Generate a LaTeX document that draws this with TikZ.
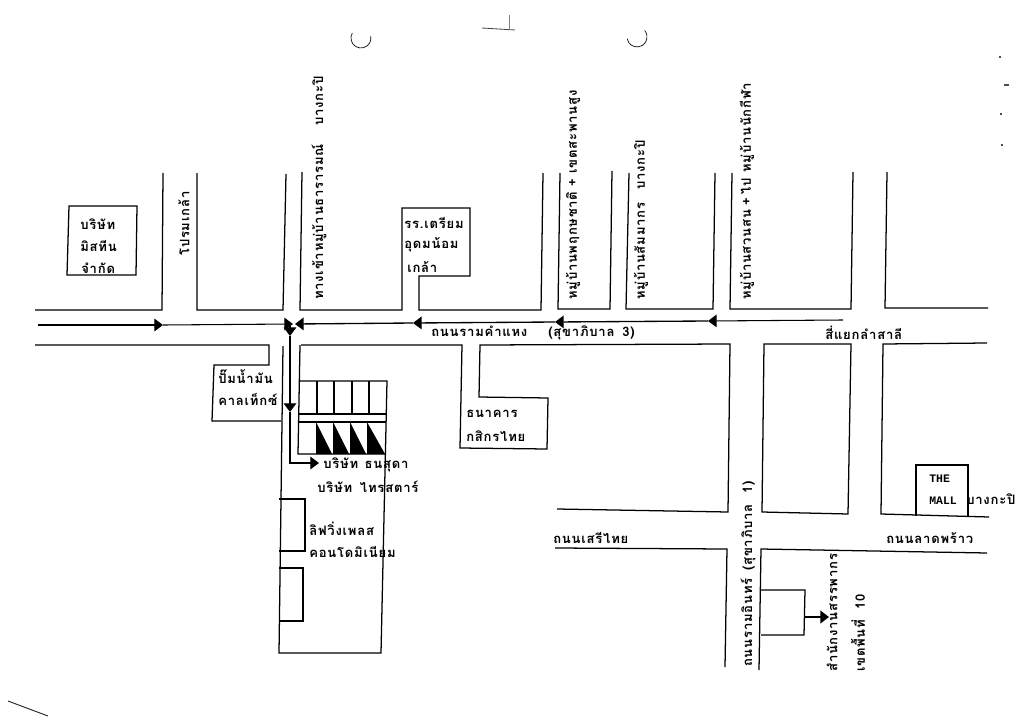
\documentclass[tikz,border=0pt]{standalone}
\usepackage{fontspec}
\usetikzlibrary{arrows.meta}
\newfontfamily\thaifont[Script=Thai,LetterSpace=6]{Loma}
\newfontfamily\latnfont{Liberation Mono}
\tikzset{
  x=0.75pt,y=-0.75pt,
  road/.style={draw=black,line width=0.95pt,line join=miter},
  flow/.style={draw=black,line width=0.8pt},
  tipr/.style={-{Triangle[length=6.5pt,width=9.5pt]}},
  lbl/.style={font=\thaifont\bfseries\fontsize{9.8}{11}\selectfont,inner sep=0pt,text=black},
  lblv/.style={lbl,rotate=90},
  latin/.style={font=\latnfont\bfseries\fontsize{8.6}{9}\selectfont,inner sep=0pt,text=black},
  speck/.style={fill=black!70,draw=none},
}
\begin{document}
\begin{tikzpicture}
\useasboundingbox (0,0) rectangle (1024,724);
\fill[white] (0,0) rectangle (1024,724);
% upper road edge
\draw[road] (35,310)--(162,310)--(163,173);
\draw[road] (197,173)--(197,310)--(283,310)--(286,174);
\draw[road] (302,172)--(300,310)--(402,310)--(402,208)--(470,208)--(470,276)--(419,276)--(419,310)--(541,310)--(543,173);
\draw[road] (560,173)--(558,309)--(610,309)--(612,171);
\draw[road] (629,173)--(626,309)--(713,309)--(715,173);
\draw[road] (732,173)--(730,309)--(851,309)--(853,172);
\draw[road] (887,172)--(885,308)--(988,308);
% lower road edge, west
\draw[road] (35,345)--(269,345)--(269,365)--(214,365)--(212,421)--(281,421);
\draw[road] (283,346)--(279,653)--(381,653)--(387,381)--(300,381);
\draw[road] (300,345)--(298,454)--(385,454);
\draw[road] (298,414)--(387,414);
\draw[road] (299,422)--(386,422);
\foreach \a in {317,334,352,369}{\draw[road] (\a,381)--(\a,414);}
\foreach \a/\b in {316/332,333/349,350/366,367/385}{\fill[black] (\a,422)--(\a,454)--(\b,454)--cycle;}
\draw[road] (279,499)--(305,499)--(305,551)--(279,551);
\draw[road] (279,568)--(303,568)--(303,621)--(279,621);
% bank block
\draw[road] (301,345)--(462,345)--(460,448)--(547,449)--(548,398)--(479,397)--(480,345)--(730,344)--(728,512)--(557,509);
% middle and east blocks
\draw[road] (762,512)--(764,344)--(851,344)--(848,514)--cycle;
\draw[road] (987,343)--(883,344)--(881,514)--(989,517);
\draw[road] (916,516)--(916,465)--(968,465)--(968,516);
% south
\draw[road] (555,548)--(727,549)--(725,667);
\draw[road] (759,670)--(761,549)--(987,553);
\draw[road] (761,590)--(805,590)--(804,635)--(761,635);
\draw[flow,line width=1.5pt,tipr] (805,617)--(829,617);
% flow arrows
\coordinate (w) at (38,325);
\coordinate (e) at (843,320);
\draw[flow,tipr] (w)--(163,325);
\draw[flow,tipr] (163,325)--(293,324);
\draw[flow,tipr] (e)--(708,321);
\draw[flow,line width=1pt,tipr] (708,321)--(555,322);
\draw[flow,line width=1pt,tipr] (555,322)--(413,323);
\draw[flow,line width=1pt,tipr] (413,323)--(295,324);
\draw[flow,tipr] (290,324)--(290,336);
\draw[flow,tipr] (290,336)--(290,412);
\draw[flow] (290,412)--(290,463)--(300,463);
\draw[flow,tipr] (290,463)--(319,463);
% labels
\node[lbl,anchor=west] (n1) at (80,224) {บริษัท};
\node[lbl,anchor=west] (n2) at (80,246) {มิสทีน};
\node[lbl,anchor=west] (n3) at (81,268) {จำกัด};
\draw[road] (69,206)--(137,206)--(136,275)--(67,275)--cycle;
\node[lblv,anchor=west] (n4) at (184,256) {โปรมเกล้า};
\node[lblv,anchor=west] (n5) at (319,300) {ทางเข้าหมู่บ้านธารารมณ์\hspace{1.4em}บางกะปิ};
\node[lbl,anchor=west] (n6) at (404,223) {รร.เตรียม};
\node[lbl,anchor=west] (n7) at (404,245) {อุดมน้อม};
\node[lbl,anchor=west] (n8) at (407,267) {เกล้า};
\node[lbl,anchor=west] (n9) at (431,333) {ถนนรามคำแหง\hspace{1.6em}(สุขาภิบาล\hspace{0.6em}3)};
\node[lblv,anchor=west] (n10) at (573,300) {หมู่บ้านพฤกษชาติ + เขตสะพานสูง};
\node[lblv,anchor=west] (n11) at (641,300) {หมู่บ้านสัมมากร\hspace{1em}บางกะปิ};
\node[lblv,anchor=west] (n12) at (747,300) {หมู่บ้านสวนสน\hspace{0.3em}+\hspace{0.3em}ไป หมู่บ้านนักกีฬา};
\node[lbl,anchor=west] (n13) at (825,333) {สี่แยกลำสาลี};
\node[lbl,anchor=west] (n14) at (218,377) {ปั๊มน้ำมัน};
\node[lbl,anchor=west] (n15) at (218,399) {คาลเท็กซ์};
\node[lbl,anchor=west] (n16) at (466,414) {ธนาคาร};
\node[lbl,anchor=west] (n17) at (466,436) {กสิกรไทย};
\node[lbl,anchor=west] (n18) at (323,465) {บริษัท\hspace{0.5em}ธนสุดา};
\node[lbl,anchor=west] (n19) at (317,487) {บริษัท\hspace{0.6em}ไทรสตาร์};
\node[lbl,anchor=west] (n20) at (309,529) {ลิฟวิ่งเพลส};
\node[lbl,anchor=west] (n21) at (309,552) {คอนโดมิเนียม};
\node[latin,anchor=west] (n22) at (929,479) {THE};
\node[latin,anchor=west] (n23) at (929,501) {MALL};
\node[lbl,anchor=west] (n24) at (966,499) {บางกะปิ};
\node[lbl,anchor=west] (n25) at (553,538) {ถนนเสรีไทย};
\node[lbl,anchor=west] (n26) at (886,538) {ถนนลาดพร้าว};
\node[lblv,anchor=west] (n27) at (748,667) {ถนนรามอินทร์\hspace{0.6em}(สุขาภิบาล\hspace{0.8em}1)};
\node[lblv,anchor=west] (n28) at (832,672) {สำนักงานสรรพากร};
\node[lblv,anchor=west] (n29) at (858,672) {เขตพื้นที่\hspace{0.8em}10};
% paper marks
\draw[line width=0.5pt] (352.3,33) arc[start angle=150,end angle=370,radius=7.5pt];
\draw[line width=0.5pt] (627.2,38.7) arc[start angle=190,end angle=400,radius=7.5pt];
\draw[line width=0.6pt,black!75] (482,28)--(515,30);
\draw[line width=0.4pt,black!50] (509,30)--(509,15);
\draw[line width=0.7pt,black!85] (8,701)--(48,716);
\fill[speck] (999,56) rectangle (1001,58);
\fill[speck] (1004,84) rectangle (1009,86);
\fill[speck] (1000,113) rectangle (1002,115);
\fill[speck] (1001,144) rectangle (1003,146);
\end{tikzpicture}
\end{document}
